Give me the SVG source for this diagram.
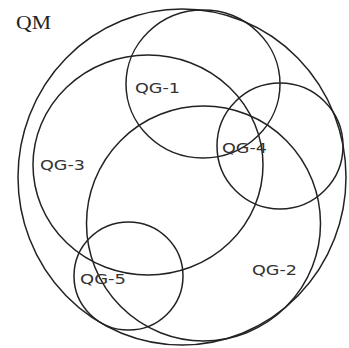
<svg xmlns="http://www.w3.org/2000/svg" width="349" height="348" viewBox="0 0 349 348">
<style>
.set{fill:none;stroke:#222;stroke-width:1.5}
.lbl{font-family:"DejaVu Sans","Liberation Sans",sans-serif;font-size:14.5px;fill:#333}
.ttl{font-family:"Liberation Serif",serif;font-size:19px;fill:#222}
</style>
<rect width="349" height="348" fill="#fff"/>
<g id="QM">
<ellipse class="set" cx="182" cy="177" rx="164" ry="168"/>
<text class="ttl" x="16" y="29" textLength="35" lengthAdjust="spacingAndGlyphs">QM</text>
</g>
<g id="QG-3">
<ellipse class="set" cx="148" cy="165" rx="115" ry="110"/>
<text class="lbl" x="40" y="170" textLength="45" lengthAdjust="spacingAndGlyphs">QG-3</text>
</g>
<g id="QG-2">
<ellipse class="set" cx="203.5" cy="223.5" rx="117" ry="117.5"/>
<text class="lbl" x="252" y="275" textLength="45" lengthAdjust="spacingAndGlyphs">QG-2</text>
</g>
<g id="QG-1">
<ellipse class="set" cx="203" cy="84" rx="77" ry="74"/>
<text class="lbl" x="135" y="93" textLength="45" lengthAdjust="spacingAndGlyphs">QG-1</text>
</g>
<g id="QG-4">
<ellipse class="set" cx="280" cy="146" rx="63" ry="63"/>
<text class="lbl" x="222" y="153" textLength="45" lengthAdjust="spacingAndGlyphs">QG-4</text>
</g>
<g id="QG-5">
<ellipse class="set" cx="128.5" cy="276" rx="54.5" ry="54"/>
<text class="lbl" x="80" y="284" textLength="46" lengthAdjust="spacingAndGlyphs">QG-5</text>
</g>
<g id="connectors"></g>
</svg>
